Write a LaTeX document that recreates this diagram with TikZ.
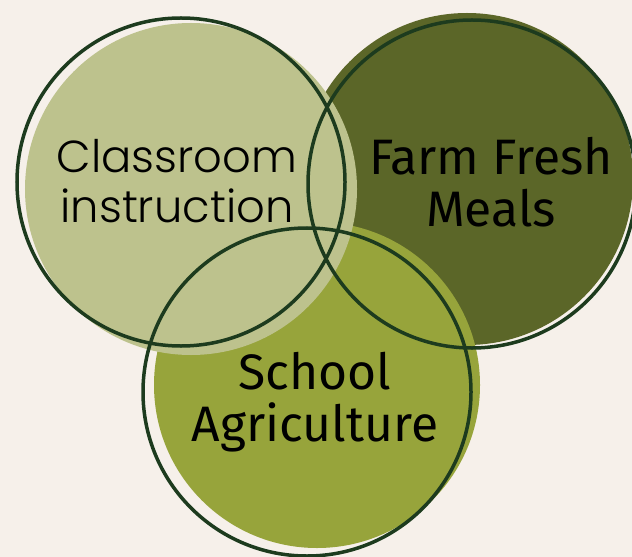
\documentclass[tikz,border=0pt]{standalone}
\usepackage{fontspec}
\newfontfamily\thinfont{Poppins Light}
\newfontfamily\plainfont{Fira Sans}
\definecolor{paper}{RGB}{246,240,234}
\definecolor{sage}{RGB}{189,194,141}
\definecolor{moss}{RGB}{91,102,40}
\definecolor{olive1}{RGB}{151,164,59}
\definecolor{pine}{RGB}{29,59,30}
\usetikzlibrary{positioning}
\tikzset{
  disc/.style={circle, inner sep=0pt, minimum size=332bp},
  ring/.style={circle, draw=pine, line width=3.5bp, inner sep=0pt, minimum size=328bp},
  txt/.style={align=center, text=black, inner sep=0pt}
}

\begin{document}
\begin{tikzpicture}[x=1bp, y=-1bp]
  \useasboundingbox[fill=paper] (0,0) rectangle (632,557);
  % filled discs, back to front
  \node[disc, fill=moss] (mealsDisc) at (467,179) {};
  \node[disc, fill=olive1, minimum size=326bp] (agriDisc) at (317,385) {};
  \node[disc, fill=sage] (classDisc) at (191,189) {};
  % outlines
  \node[ring] (classRing) at (181,182) {};
  \node[ring] (mealsRing) at (472,184) {};
  \node[ring] (agriRing) at (307,392) {};
  % texts
  \node[txt, font=\thinfont\fontsize{45}{50}\selectfont] (classText) at (177,181) {Classroom\\instruction};
  \node[txt, font=\plainfont\fontsize{50}{52}\selectfont] (mealsText) at (491,182) {Farm Fresh\\Meals};
  \node[txt, font=\plainfont\fontsize{50}{52}\selectfont] (agriText) at (315,402) {School\\Agriculture};
\end{tikzpicture}
\end{document}
